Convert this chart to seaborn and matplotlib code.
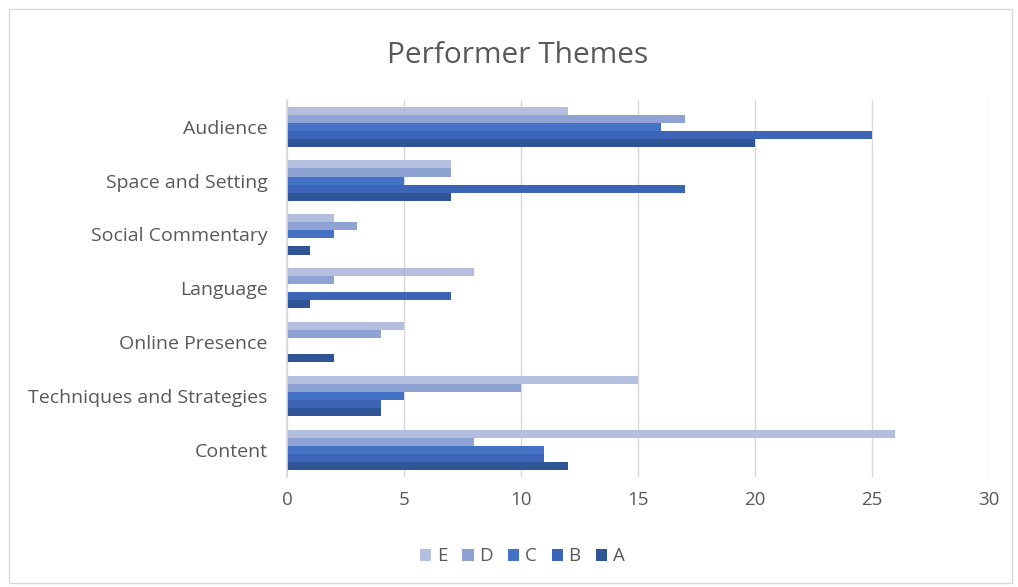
import pandas as pd
import matplotlib.pyplot as plt
import seaborn as sns
from matplotlib.patches import Rectangle

# Data
themes = ["Audience", "Space and Setting", "Social Commentary", "Language",
          "Online Presence", "Techniques and Strategies", "Content"]
series = ["E", "D", "C", "B", "A"]
E = [12, 7, 2, 8, 5, 15, 26]
D = [17, 7, 3, 2, 4, 10, 8]
C = [16, 5, 2, 0, 0, 5, 11]
B = [25, 17, 0, 7, 0, 4, 11]
A = [20, 7, 1, 1, 2, 4, 12]
colors = ["#b4bfe0", "#8ea2d4", "#4472c4", "#3c65b8", "#2f5597"]

rows = []
for name, vals in zip(series, [E, D, C, B, A]):
    for t, v in zip(themes, vals):
        rows.append({"Theme": t, "Series": name, "Count": v})
df = pd.DataFrame(rows)

sns.set_theme(style="white")
plt.rcParams["font.family"] = ["Open Sans", "DejaVu Sans"]
text_color = "#595959"

fig = plt.figure(figsize=(10.18, 5.87), dpi=100)
ax = fig.add_axes([0.282, 0.188, 0.689, 0.642])

sns.barplot(data=df, y="Theme", x="Count", hue="Series", order=themes,
            hue_order=series, palette=colors, orient="h", width=0.75,
            linewidth=0, saturation=1, ax=ax)

ax.set_xlim(0, 30)
ax.set_xticks(range(0, 31, 5))
ax.xaxis.grid(True, color="#d9d9d9", linewidth=1)
ax.set_axisbelow(True)
ax.set_xlabel("")
ax.set_ylabel("")
for s in ["top", "right", "bottom"]:
    ax.spines[s].set_visible(False)
ax.spines["left"].set_color("#d9d9d9")
ax.tick_params(axis="both", length=0, labelsize=13.5, colors=text_color)
ax.tick_params(axis="x", pad=10)
ax.tick_params(axis="y", pad=14, labelsize=14)

fig.suptitle("Performer Themes", x=0.508, y=0.93, fontsize=21.5, color=text_color)

handles, labels = ax.get_legend_handles_labels()
ax.get_legend().remove()
fig.legend(handles, labels, loc="center", bbox_to_anchor=(0.513, 0.052), ncol=5,
           frameon=False, handlelength=0.6, handleheight=0.6, handletextpad=0.3,
           columnspacing=0.8, fontsize=13.5, labelcolor=text_color)

fig.patches.append(Rectangle((0.009, 0.007), 0.985, 0.977, transform=fig.transFigure,
                             fill=False, edgecolor="#d9d9d9", linewidth=1))

fig.savefig("out.png", dpi=100)
